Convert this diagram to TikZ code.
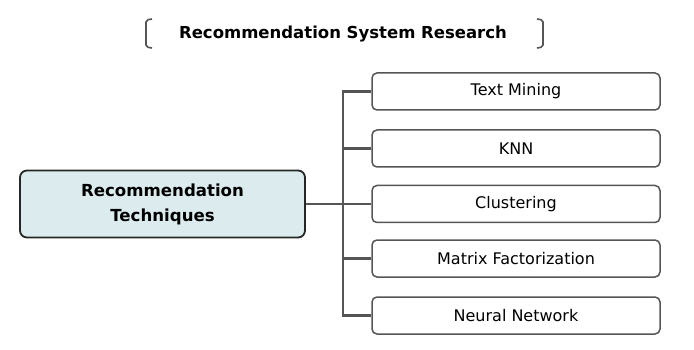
\documentclass[tikz,border=0pt]{standalone}
\usepackage{fontspec}
\setmainfont{DejaVu Sans}
\usepackage{tikz}
\usetikzlibrary{positioning}

\definecolor{linegray}{HTML}{555555}
\definecolor{mainfill}{HTML}{DCECEE}

\begin{document}
\begin{tikzpicture}[
    x=1pt, y=-1pt,
    mainblock/.style={rectangle, draw=black!85, line width=1.8pt, rounded corners=7pt, fill=mainfill, minimum width=285pt, minimum height=67pt, align=center, font=\fontsize{16.6}{25}\selectfont\bfseries},
    leaf/.style={rectangle, draw=linegray, line width=1.5pt, rounded corners=5pt, fill=white, minimum width=288pt, minimum height=37pt, font=\fontsize{16}{18}\selectfont},
    conn/.style={draw=linegray, line width=2.2pt},
    brk/.style={draw=linegray, line width=1.6pt, rounded corners=2pt},
]
\useasboundingbox (0,0) rectangle (694,350);

% ======== TITLE ========
\node[font=\fontsize{16.5}{20}\selectfont\bfseries] (title) at (343,34) {Recommendation System Research};
\draw[brk] (152,19) -- (146,20) -- (146,47) -- (152,48);
\draw[brk] (537,19) -- (543,20) -- (543,47) -- (537,48);

% ======== ROOT ========
\node[mainblock] (tech) at (162.5,204) {Recommendation\\Techniques};

% ======== LEAVES ========
\node[leaf] (textmining) at (516,91.5) {Text Mining};
\node[leaf] (knn) at (516,148.5) {KNN};
\node[leaf] (cluster) at (516,204) {Clustering};
\node[leaf] (matrix) at (516,258.5) {Matrix Factorization};
\node[leaf] (neural) at (516,315.5) {Neural Network};

% trunk
\coordinate (trunktop) at (343,91.5);
\coordinate (trunkbot) at (343,315.5);
\draw[conn] (tech.east) -- (cluster.west);
\draw[conn] (textmining.west) -- (trunktop) -- (trunkbot) -- (neural.west);
\foreach \n in {knn, matrix}
    \draw[conn] (\n.west) -- (\n.west -| trunktop);

\end{tikzpicture}
\end{document}
